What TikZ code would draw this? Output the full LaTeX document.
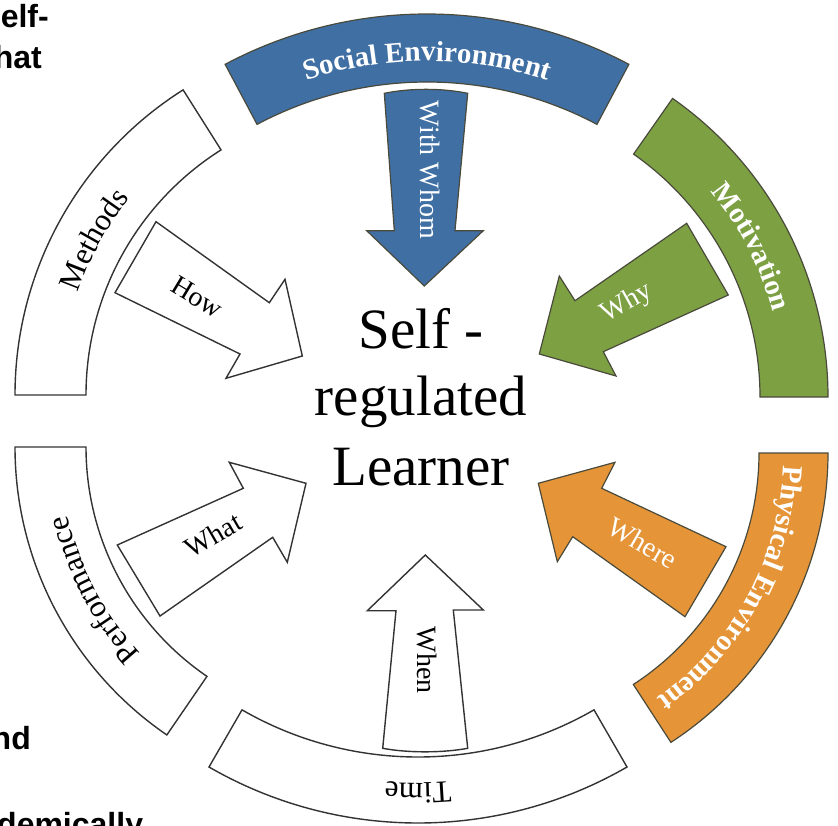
\documentclass[tikz,border=0pt]{standalone}
\usepackage{fontspec}
\setmainfont{Liberation Serif}
\newfontfamily\bgsans{Liberation Sans}
\usetikzlibrary{decorations.text}
\definecolor{sblue}{RGB}{64,111,164}
\definecolor{mgreen}{RGB}{124,160,66}
\definecolor{porange}{RGB}{229,149,56}
\definecolor{edgec}{RGB}{74,74,60}
\tikzset{
  cring/.style={draw=edgec, line width=1.2pt, line join=miter},
  wring/.style={draw=black!80, line width=1.4pt, fill=white, line join=miter},
  lbl/.style={font=\fontsize{28}{28}\selectfont, inner sep=0pt},
  bigtxt/.style={font=\fontsize{57}{57}\selectfont, inner sep=0pt, anchor=base},
  bgtxt/.style={font=\bgsans\bfseries\fontsize{32}{32}\selectfont, inner sep=0pt},
}
\begin{document}
\begin{tikzpicture}[x=1pt,y=1pt]
\useasboundingbox (0,-825) rectangle (838,0);
\fill[white] (0,-825) rectangle (838,0);

% background text fragments
\node[bgtxt, anchor=base east] (f1) at (49,-27) {elf-};
\node[bgtxt, anchor=base east] (f2) at (42,-68) {hat};
\node[bgtxt, anchor=base east] (f3) at (31,-749) {nd};
\node[bgtxt, anchor=base west] (f4) at (-3,-835) {demically};

% ring segments
\draw[cring, fill=sblue] ([shift={(427,-444)}]118:430) arc[start angle=118,end angle=62,radius=430]
  -- ([shift={(427,-444)}]62:362) arc[start angle=62,end angle=118,radius=362] -- cycle;
\draw[cring, fill=mgreen] ([shift={(463.5,-397)}]55:364.5) arc[start angle=55,end angle=0,radius=364.5]
  -- ([shift={(463.5,-397)}]0:296.5) arc[start angle=0,end angle=55,radius=296.5] -- cycle;
\draw[cring, fill=porange] ([shift={(483,-453)}]0:345) arc[start angle=0,end angle=-57,radius=345]
  -- ([shift={(483,-453)}]-57:276) arc[start angle=-57,end angle=0,radius=276] -- cycle;
\draw[wring] ([shift={(418,-405)}]300:418) arc[start angle=300,end angle=240,radius=418]
  -- ([shift={(418,-405)}]240:352) arc[start angle=240,end angle=300,radius=352] -- cycle;
\draw[wring] ([shift={(364,-447)}]235.6:349) arc[start angle=235.6,end angle=180,radius=349]
  -- ([shift={(364,-447)}]180:278) arc[start angle=180,end angle=235.6,radius=278] -- cycle;
\draw[wring] ([shift={(376,-395)}]180:361) arc[start angle=180,end angle=122.3,radius=361]
  -- ([shift={(376,-395)}]122.3:290) arc[start angle=122.3,end angle=180,radius=290] -- cycle;

% ring texts
\path[decorate, decoration={text along path, text align=center,
  text={|\fontsize{29}{29}\selectfont\bfseries\color{white}|Social Environment}}]
  ([shift={(427,-444)}]118:383) arc[start angle=118,end angle=62,radius=383];
\path[decorate, decoration={text along path, text align=center,
  text={|\fontsize{29}{29}\selectfont\bfseries\color{white}|Motivation}}]
  ([shift={(463.5,-397)}]55:321) arc[start angle=55,end angle=0,radius=321];
\path[decorate, decoration={text along path, text align=center,
  text={|\fontsize{29}{29}\selectfont\bfseries\color{white}|Physical Environment}}]
  ([shift={(483,-453)}]0:301) arc[start angle=0,end angle=-57,radius=301];
\path[decorate, decoration={text along path, text align=center,
  text={|\fontsize{31}{31}\selectfont|Time}}]
  ([shift={(418,-405)}]300:378) arc[start angle=300,end angle=240,radius=378];
\path[decorate, decoration={text along path, text align=center,
  text={|\fontsize{31}{31}\selectfont|Performance}}]
  ([shift={(364,-447)}]235.6:304) arc[start angle=235.6,end angle=180,radius=304];
\path[decorate, decoration={text along path, text align=center,
  text={|\fontsize{31}{31}\selectfont|Methods}}]
  ([shift={(376,-395)}]180:315) arc[start angle=180,end angle=122.3,radius=315];

% arrows
\draw[cring, fill=sblue] (384.3,-93.3) .. controls (410,-88) and (442,-88) .. (467.7,-93.3)
  -- (455,-230.7) -- (483.3,-230.7) -- (424.3,-286) -- (366.7,-230.7) -- (394.3,-230.7) -- cycle;
\draw[wring] (425.3,-555) -- (483.3,-610) -- (453.3,-610) -- (467.7,-748.3)
  .. controls (442,-753) and (408,-753) .. (382.7,-748.3) -- (396,-610.7) -- (367.3,-610.7) -- cycle;
\draw[wring] (156,-221.7) -- (269.3,-302.7) -- (285,-279.3) -- (302.3,-356) -- (226,-378.3)
  -- (240,-354) -- (115,-292.7) -- cycle;
\draw[wring] (117.3,-545) -- (243.3,-488.3) -- (229.3,-462.3) -- (306,-483.3) -- (287.3,-562.3)
  -- (272.7,-537.3) -- (160,-616) -- cycle;
\draw[cring, fill=mgreen] (686.7,-223.3) -- (575,-300.7) -- (559.3,-276) -- (539.3,-354)
  -- (616,-376) -- (603.3,-351.7) -- (728.3,-295) -- cycle;
\draw[cring, fill=porange] (726,-546.7) -- (601.7,-488.3) -- (615,-462.3) -- (538.3,-483.3)
  -- (557.3,-561.7) -- (572.7,-536.7) -- (685,-616.7) -- cycle;

% arrow labels
\node[lbl, text=white, rotate=-90] (ww) at (430,-170) {With Whom};
\node[lbl, rotate=-90] (when) at (427,-660) {When};
\node[lbl, rotate=-31] (how) at (197,-297) {How};
\node[lbl, rotate=30] (what) at (213,-535) {What};
\node[lbl, text=white, rotate=29] (why) at (627,-303) {Why};
\node[lbl, text=white, rotate=-30] (where) at (643,-543) {Where};

% centre
\node[bigtxt] (srl1) at (421,-348) {Self -};
\node[bigtxt] (srl2) at (421,-415) {regulated};
\node[bigtxt] (srl3) at (421,-485) {Learner};
\end{tikzpicture}
\end{document}
